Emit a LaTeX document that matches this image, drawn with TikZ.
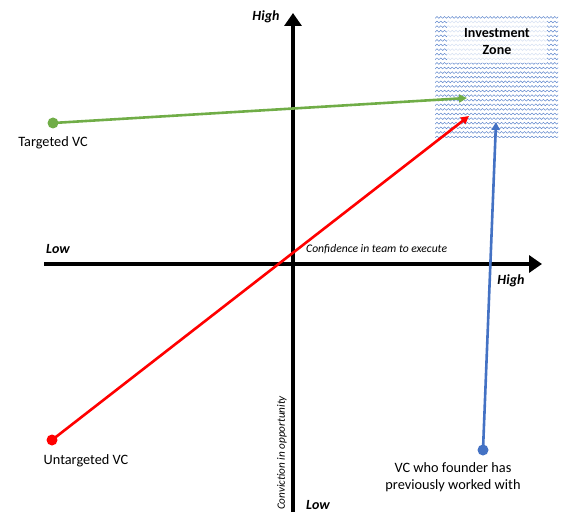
\documentclass[tikz,border=0pt]{standalone}
\usepackage{fontspec}
\setmainfont{Carlito}
\usetikzlibrary{arrows.meta,decorations.pathmorphing}
\begin{document}
\begin{tikzpicture}[x=1pt,y=1pt,
  axis/.style={line width=3.5pt,-{Triangle[length=13pt,width=17pt]}},
  conn/.style={line width=2.6pt,-{Triangle[length=8pt,width=8pt]}},
  dotnode/.style={circle,inner sep=0pt,minimum size=11pt},
  lbl/.style={font=\fontsize{14.3}{17}\selectfont,align=center},
  axlbl/.style={font=\fontsize{14}{16}\selectfont\bfseries\itshape},
  wave/.style={draw=bc!85,line width=0.5pt,decorate,decoration={snake,amplitude=0.9pt,segment length=3.8pt}}
]
\definecolor{gc}{RGB}{112,173,71}
\definecolor{bc}{RGB}{68,114,196}
\definecolor{rc}{RGB}{255,0,0}
\useasboundingbox (0,0) rectangle (573,523);
% Investment zone
\begin{scope}
\clip (435,385) rectangle (558,506);
\foreach \yy in {386,390.6,...,506}{\draw[wave] (432,\yy) -- (562,\yy);}
\end{scope}
\node[fill=white,fill opacity=0.75,text opacity=1,inner sep=1pt,minimum width=100pt,minimum height=42pt,align=center,font=\fontsize{14}{17}\selectfont\bfseries] (zone) at (497,481) {Investment\\Zone};
% axes
\coordinate (vb) at (293,11);
\coordinate (vt) at (293,510);
\coordinate (hl) at (44,259);
\coordinate (hr) at (542,259);
\draw[axis] (vb) -- (vt);
\draw[axis] (hl) -- (hr);
\node[axlbl] (hightop) at (266,506) {High};
\node[axlbl] (lowleft) at (58,274) {Low};
\node[axlbl] (highright) at (511,242) {High};
\node[axlbl] (lowbot) at (318,18) {Low};
\node[font=\fontsize{11.6}{14}\selectfont\itshape,anchor=west,inner sep=0pt] (conf) at (306,274) {Confidence in team to execute};
\node[font=\fontsize{11.2}{14}\selectfont\itshape,rotate=90,inner sep=0pt] (conv) at (282,70) {Conviction in opportunity};
% points
\node[dotnode,fill=gc] (g) at (53,400) {};
\node[dotnode,fill=rc] (r) at (52,83) {};
\node[dotnode,fill=bc] (b) at (483,73) {};
\coordinate (gt) at (467,425);
\coordinate (rt) at (469,407);
\coordinate (bt) at (496,401);
\draw[conn,draw=gc,fill=gc] (g.center) -- (gt);
\draw[conn,draw=rc,fill=rc] (r.center) -- (rt);
\draw[conn,draw=bc,fill=bc] (b.center) -- (bt);
\node[lbl] (tl) at (53,380) {Targeted VC};
\node[lbl] (ul) at (86,62) {Untargeted VC};
\node[lbl] (bl) at (453,46) {VC who founder has\\previously worked with};
\end{tikzpicture}
\end{document}
